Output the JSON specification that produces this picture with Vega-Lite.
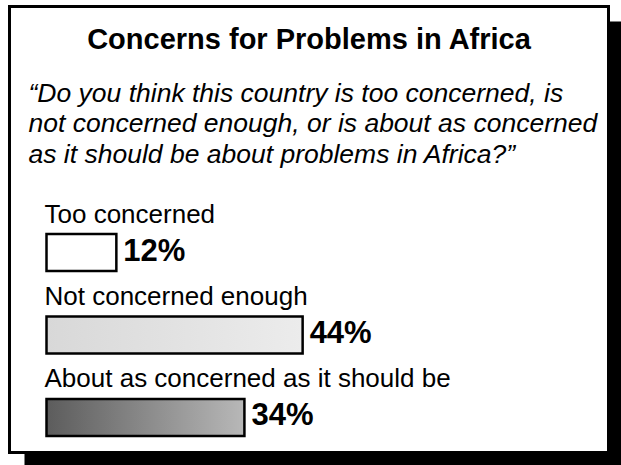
{
  "$schema": "https://vega.github.io/schema/vega-lite/v6.json",
  "autosize": {"type": "pad"},
  "padding": {"left": 7.5, "top": 4.5, "right": 0, "bottom": 0},
  "background": "white",
  "title": {
    "text": "Concerns for Problems in Africa",
    "anchor": "middle",
    "frame": "group",
    "offset": -50,
    "font": "Liberation Sans",
    "fontSize": 29,
    "fontWeight": "bold",
    "color": "black"
  },
  "datasets": {
    "responses": [
      {"response": "Too concerned", "share": 0.12},
      {"response": "Not concerned enough", "share": 0.44},
      {"response": "About as concerned as it should be", "share": 0.34}
    ],
    "frame": [{"part": "box"}]
  },
  "vconcat": [
    {
      "width": 599,
      "height": 446,
      "title": {
        "text": [
          "“Do you think this country is too concerned, is",
          "not concerned enough, or is about as concerned",
          "as it should be about problems in Africa?”"
        ],
        "anchor": "start",
        "frame": "group",
        "dx": 19,
        "offset": -163,
        "font": "Liberation Sans",
        "fontSize": 26.5,
        "fontStyle": "italic",
        "fontWeight": "normal",
        "lineHeight": 30.5,
        "color": "black"
      },
      "layer": [
        {
          "data": {"name": "frame"},
          "mark": {"type": "rect", "x": 15, "x2": 614, "y": 15, "y2": 461, "fill": "black"},
          "encoding": {}
        },
        {
          "data": {"name": "frame"},
          "mark": {"type": "rect", "x": 0, "x2": "width", "y": 0, "y2": "height", "fill": "white", "stroke": "black", "strokeWidth": 3},
          "encoding": {}
        },
        {
          "data": {"name": "responses"},
          "layer": [
            {
              "mark": {"type": "bar", "xOffset": 37, "x2Offset": 37, "stroke": "black", "strokeWidth": 2.5},
              "encoding": {
                "x": {"field": "share", "type": "quantitative", "axis": null, "scale": {"domain": [0, 1.029], "nice": false}},
                "y": {"field": "response", "type": "nominal", "axis": null, "sort": ["Too concerned", "Not concerned enough", "About as concerned as it should be"], "scale": {"range": [227.5, 429.5], "paddingInner": 0.5515, "paddingOuter": 0}},
                "fill": {
                  "condition": [
                    {"test": "datum.response === 'Not concerned enough'", "value": {"gradient": "linear", "x1": 0, "y1": 0, "x2": 1, "y2": 0, "stops": [{"offset": 0, "color": "#d8d8d8"}, {"offset": 1, "color": "#ececec"}]}},
                    {"test": "datum.response === 'About as concerned as it should be'", "value": {"gradient": "linear", "x1": 0, "y1": 0, "x2": 1, "y2": 0, "stops": [{"offset": 0, "color": "#5c5c5c"}, {"offset": 1, "color": "#b8b8b8"}]}}
                  ],
                  "value": "white"
                }
              }
            },
            {
              "mark": {"type": "text", "align": "left", "baseline": "alphabetic", "xOffset": 35, "dy": -30, "font": "Liberation Sans", "fontSize": 26, "color": "black"},
              "encoding": {
                "x": {"datum": 0, "type": "quantitative"},
                "y": {"field": "response", "type": "nominal", "sort": ["Too concerned", "Not concerned enough", "About as concerned as it should be"]},
                "text": {"field": "response", "type": "nominal"}
              }
            },
            {
              "mark": {"type": "text", "align": "left", "baseline": "middle", "xOffset": 37, "dx": 7, "dy": -1, "font": "Liberation Sans", "fontSize": 31, "fontWeight": "bold", "color": "black"},
              "encoding": {
                "x": {"field": "share", "type": "quantitative"},
                "y": {"field": "response", "type": "nominal", "sort": ["Too concerned", "Not concerned enough", "About as concerned as it should be"]},
                "text": {"field": "share", "type": "quantitative", "format": ".0%"}
              }
            }
          ]
        }
      ]
    }
  ],
  "config": {"view": {"stroke": null}}
}
